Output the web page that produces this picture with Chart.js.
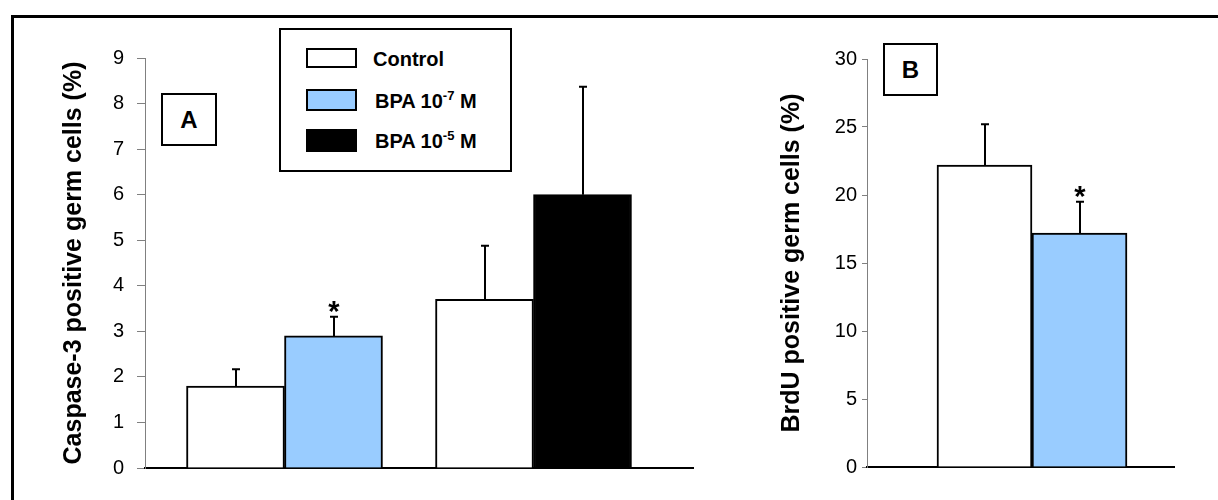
<!DOCTYPE html>
<html>
<head>
<meta charset="utf-8">
<script src="https://cdn.jsdelivr.net/npm/chart.js@4.4.1/dist/chart.umd.min.js"></script>
<style>
  html, body { margin: 0; padding: 0; background: #fff; overflow: hidden; }
  #wrap { position: relative; width: 1218px; height: 500px; overflow: hidden; font-family: "Liberation Sans", Arial, sans-serif; }
  #frame { position: absolute; left: 11px; top: 15px; width: 1400px; height: 700px; border-left: 3px solid #000; border-top: 3px solid #000; }
  canvas { position: absolute; top: 0; }
  #cA { left: 0; }
  #cB { left: 700px; }
  .box { position: absolute; border: 2px solid #000; background: #fff; box-sizing: border-box; }
  .lbl { position: absolute; font-weight: bold; font-size: 20px; color: #000; line-height: 1; white-space: nowrap; }
  .lbl sup { font-size: 13px; position: relative; top: -2px; vertical-align: top; }
  .panel { position: absolute; font-weight: bold; font-size: 24px; display: flex; align-items: center; justify-content: center; }
</style>
</head>
<body>
<div id="wrap">
  <div id="frame"></div>
  <canvas id="cA" width="700" height="500"></canvas>
  <canvas id="cB" width="518" height="500"></canvas>

  <div class="box" style="left:279px; top:28px; width:233px; height:144px;"></div>
  <div class="box" style="left:306px; top:48px; width:51px; height:20px; background:#fff;"></div>
  <div class="box" style="left:306px; top:89px; width:51px; height:22px; background:#99CCFF;"></div>
  <div class="box" style="left:306px; top:129px; width:51px; height:23px; background:#000;"></div>
  <div class="lbl" style="left:373px; top:49px;" id="lg0"></div>
  <div class="lbl" style="left:375px; top:91px;" id="lg1"></div>
  <div class="lbl" style="left:375px; top:131px;" id="lg2"></div>

  <div class="box panel" style="left:161px; top:93px; width:56px; height:53px;">A</div>
  <div class="box panel" style="left:883px; top:43px; width:55px; height:53px;">B</div>
</div>
<script>
// ---- data ----
const seriesNames = ['Control', 'BPA 10-7 M', 'BPA 10-5 M'];
const seriesColors = ['#FFFFFF', '#99CCFF', '#000000'];

// Panel A: Caspase-3 positive germ cells (%), two experiment groups
const caspaseGroups = [1, 2];
const caspaseControl = [1.8, 3.7];
const caspaseBPA7 = [2.9, null];
const caspaseBPA5 = [null, 6.0];
const caspaseControlErr = [0.37, 1.18];
const caspaseBPA7Err = [0.42, null];
const caspaseBPA5Err = [null, 2.37];
const caspaseBPA7Star = [true, false];
const caspaseTicks = [0, 1, 2, 3, 4, 5, 6, 7, 8, 9];

// Panel B: BrdU positive germ cells (%)
const brduGroups = [1];
const brduControl = [22.2];
const brduBPA7 = [17.2];
const brduControlErr = [3.0];
const brduBPA7Err = [2.3];
const brduBPA7Star = [true];
const brduTicks = [0, 5, 10, 15, 20, 25, 30];

// legend text
document.getElementById('lg0').textContent = seriesNames[0];
document.getElementById('lg1').innerHTML = 'BPA 10<sup>-7</sup> M';
document.getElementById('lg2').innerHTML = 'BPA 10<sup>-5</sup> M';

const FONT = '"Liberation Sans", Arial, sans-serif';

const errorBarPlugin = {
  id: 'errorBars',
  afterDatasetsDraw(chart) {
    const ctx = chart.ctx;
    const yScale = chart.scales.y;
    chart.data.datasets.forEach((ds, di) => {
      const meta = chart.getDatasetMeta(di);
      meta.data.forEach((bar, i) => {
        const pt = ds.data[i];
        const e = ds.errors ? ds.errors[i] : null;
        if (!pt || pt.y == null || e == null) return;
        const yTop = yScale.getPixelForValue(pt.y + e);
        const x = Math.round(bar.x);
        ctx.save();
        ctx.strokeStyle = '#000';
        ctx.lineWidth = 2;
        ctx.beginPath();
        ctx.moveTo(x, bar.y);
        ctx.lineTo(x, yTop);
        ctx.moveTo(x - 4, yTop);
        ctx.lineTo(x + 4, yTop);
        ctx.stroke();
        if (ds.stars && ds.stars[i]) {
          ctx.fillStyle = '#000';
          ctx.font = 'bold 29px ' + FONT;
          ctx.textAlign = 'center';
          ctx.textBaseline = 'alphabetic';
          ctx.fillText('*', x, yTop - 12 + 16);
        }
        ctx.restore();
      });
    });
  }
};

function toPoints(groups, values) {
  return groups.map((g, i) => ({ x: g, y: values[i] }));
}

function makeDataset(label, color, groups, values, errors, stars, thickness) {
  return {
    label,
    data: toPoints(groups, values),
    errors,
    stars,
    backgroundColor: color,
    borderColor: '#000',
    borderWidth: 2,
    barThickness: thickness,
    skipNull: true
  };
}

function makeOptions(o) {
  return {
    responsive: false,
    animation: false,
    layout: { padding: { left: 0, top: o.top, right: o.right, bottom: o.bottom } },
    plugins: { legend: { display: false }, tooltip: { enabled: false } },
    scales: {
      x: {
        type: 'linear',
        offset: false,
        min: o.xmin,
        max: o.xmax,
        grid: { display: false },
        ticks: { display: false },
        border: { display: true, color: '#000', width: 2 },
        afterFit: s => { s.height = 0; }
      },
      y: {
        min: 0,
        max: o.ticks[o.ticks.length - 1],
        afterBuildTicks: s => { s.ticks = o.ticks.map(v => ({ value: v })); },
        ticks: { color: '#000', font: { family: FONT, size: 20 }, padding: o.tickPad },
        grid: { display: true, drawOnChartArea: false, drawTicks: true, tickLength: o.tickLen, color: '#808080', lineWidth: 1 },
        border: { display: true, color: '#808080', width: 1 },
        title: { display: true, text: o.title, color: '#000', font: { family: FONT, size: 25, weight: 'bold' }, padding: { top: o.titlePad, bottom: 0 } },
        afterFit: s => { s.width = o.yWidth; }
      }
    }
  };
}

new Chart(document.getElementById('cA'), {
  type: 'bar',
  data: {
    datasets: [
      makeDataset(seriesNames[0], seriesColors[0], caspaseGroups, caspaseControl, caspaseControlErr, null, 98),
      makeDataset(seriesNames[1], seriesColors[1], caspaseGroups, caspaseBPA7, caspaseBPA7Err, caspaseBPA7Star, 98),
      makeDataset(seriesNames[2], seriesColors[2], caspaseGroups, caspaseBPA5, caspaseBPA5Err, null, 98)
    ]
  },
  options: makeOptions({ top: 58, bottom: 32, right: 7, xmin: 1 - 139.5 / 249, xmax: 2 + 159.5 / 249,
    ticks: caspaseTicks, title: 'Caspase-3 positive germ cells (%)', titlePad: 59, yWidth: 145, tickLen: 8, tickPad: 13 }),
  plugins: [errorBarPlugin]
});

new Chart(document.getElementById('cB'), {
  type: 'bar',
  data: {
    datasets: [
      makeDataset(seriesNames[0], seriesColors[0], brduGroups, brduControl, brduControlErr, null, 95),
      makeDataset(seriesNames[1], seriesColors[1], brduGroups, brduBPA7, brduBPA7Err, brduBPA7Star, 95)
    ]
  },
  options: makeOptions({ top: 59, bottom: 33, right: 44, xmin: 1 - 1.65, xmax: 1 + 1.42,
    ticks: brduTicks, title: 'BrdU positive germ cells (%)', titlePad: 77, yWidth: 167, tickLen: 5, tickPad: 5 }),
  plugins: [errorBarPlugin]
});
</script>
</body>
</html>
